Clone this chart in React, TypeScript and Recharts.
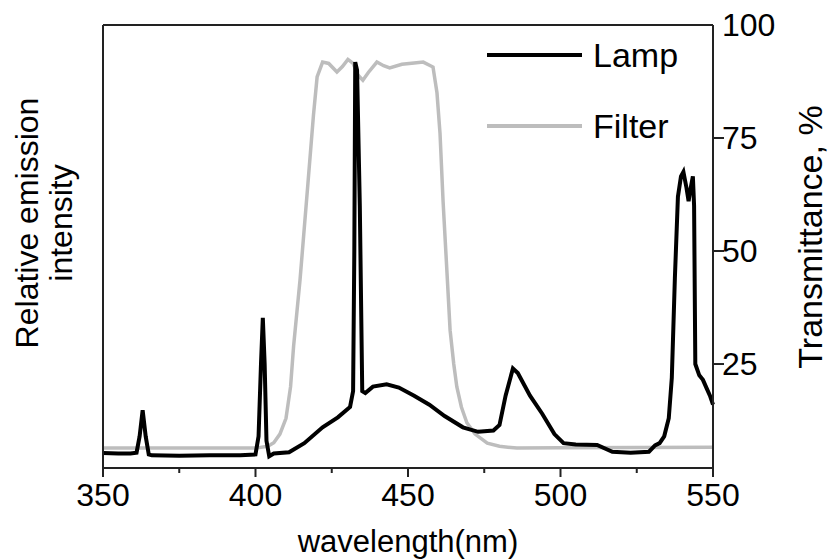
import { LineChart, Line, XAxis, YAxis, Label, ReferenceLine } from 'recharts'

// lamp emission spectrum (relative, plotted on the same 0-100 scale)
const lampWavelength = [
  350, 355, 359, 361, 362, 363, 364, 365, 366, 375, 385, 395, 400, 401, 401.8, 402.4, 403, 403.6, 404.5,
  406, 411, 416, 422, 427, 431, 432, 432.4, 432.7, 433.3, 434.2, 435, 436, 438.5, 443, 447, 452, 457,
  462, 468, 473, 478, 480, 482, 484.4, 486, 490, 494, 498, 501, 505, 512, 517, 523, 529, 531, 532.5,
  534, 535.5, 536.5, 537.5, 538.5, 539.5, 540.3, 541.3, 542, 542.7, 543.4, 543.8, 544.2, 545.5, 546.7,
  548, 549, 550,
]
const lampIntensity = [
  5.3, 5.2, 5.2, 5.4, 9, 14.8, 9, 5, 4.8, 4.7, 4.8, 4.8, 5, 9, 25, 35.2, 25, 8, 4.6,
  5.2, 5.5, 7.5, 11, 13.2, 15.5, 19, 50, 91.8, 90, 60, 19, 18.6, 20, 20.5, 19.8, 18, 16,
  13.5, 11, 10, 10.3, 11.5, 18, 24, 23, 18, 14, 9.5, 7.5, 7.2, 7.1, 5.6, 5.4, 5.6, 7, 7.5,
  9, 13, 22, 44, 62, 66.5, 67.5, 64, 61, 64, 66.5, 60, 25, 22.5, 21.5,
  19.5, 18, 16,
]

// filter transmittance, %
const filterWavelength = [
  350, 400, 404, 406, 408, 410, 411.5, 412.5, 414.6, 417.2, 419, 420.2, 422, 424, 426.7, 428.5, 430.3,
  432, 433.5, 435.2, 437, 439.8, 442, 444, 448, 452, 455, 458.2, 459.5, 460.5, 461.5, 462.8, 463.8,
  465, 466, 467.5, 469.3, 472, 476, 480, 485.7, 500, 550,
]
const filterTransmittance = [
  6.4, 6.4, 6.8, 7.6, 9.5, 13, 20, 29, 43.6, 65, 80, 88.5, 91.8, 91.5, 89.6, 90.8, 92.4,
  91.5, 89, 87.8, 89.5, 91.8, 91, 90.5, 91.3, 91.6, 91.8, 90.7, 85, 76, 61, 45, 32.5,
  25, 20, 15.5, 12, 9.5, 7.5, 6.8, 6.4, 6.5, 6.6,
]

const xTicks = [350, 375, 400, 425, 450, 475, 500, 525, 550]
const yTicks = [25, 50, 75, 100]
const legendNames = ['Lamp', 'Filter']
const legendColors = ['#000', '#bdbdbd']

const lampData = lampWavelength.map((wl, i) => ({ wl, lamp: lampIntensity[i] }))
const filterData = filterWavelength.map((wl, i) => ({ wl, filter: filterTransmittance[i] }))

const FONT = '"Liberation Sans", Arial, sans-serif'
const AXIS = '#222'

function XTick({ x, y, payload }: any) {
  const major = payload.value % 50 === 0
  return (
    <g>
      <line x1={x} x2={x} y1={y} y2={y + (major ? 9 : 5)} stroke={AXIS} strokeWidth={2} />
      {major && (
        <text x={x} y={y + 38} textAnchor="middle" fontSize={32} fontFamily={FONT} fill="#000">
          {payload.value}
        </text>
      )}
    </g>
  )
}

function YTick({ x, y, payload }: any) {
  return (
    <g>
      {payload.value !== 100 && <line x1={x} x2={x + 11} y1={y} y2={y} stroke={AXIS} strokeWidth={2} />}
      <text x={x + 9} y={y + 11} textAnchor="start" fontSize={32} fontFamily={FONT} fill="#000">
        {payload.value}
      </text>
    </g>
  )
}

// legend drawn in plot space (top right, inside the frame)
function LegendBox() {
  return (
    <g>
      {legendNames.map((name, i) => {
        const y = 55 + i * 71
        return (
          <g key={name}>
            <line x1={487} x2={582} y1={y} y2={y} stroke={legendColors[i]} strokeWidth={4} />
            <text x={593} y={y + 12} fontSize={34} fontFamily={FONT} fill="#000">
              {name}
            </text>
          </g>
        )
      })}
    </g>
  )
}

export default function App() {
  return (
    <div style={{ width: 831, height: 560, background: '#fff' }}>
      <style>{'body{margin:0}'}</style>
      <LineChart width={831} height={560} margin={{ top: 25, right: 0, bottom: 0, left: 0 }}>
        <XAxis
          dataKey="wl"
          type="number"
          domain={[350, 550]}
          ticks={xTicks}
          allowDuplicatedCategory={false}
          height={92}
          stroke={AXIS}
          strokeWidth={2}
          tickLine={false}
          tickSize={0}
          tickMargin={0}
          tick={<XTick />}
        >
          <Label
            content={() => (
              <text x={408} y={552} textAnchor="middle" fontSize={31} fontFamily={FONT} fill="#000">
                wavelength(nm)
              </text>
            )}
          />
        </XAxis>
        <YAxis
          yAxisId="left"
          orientation="left"
          type="number"
          domain={[2, 100]}
          width={103}
          tick={false}
          tickLine={false}
          stroke={AXIS}
          strokeWidth={2}
        >
          <Label
            content={() => (
              <g fontSize={32} fontFamily={FONT} fill="#000" textAnchor="middle">
                <text transform="translate(38 223) rotate(-90)">Relative emission</text>
                <text transform="translate(72 223) rotate(-90)">intensity</text>
              </g>
            )}
          />
        </YAxis>
        <YAxis
          yAxisId="right"
          orientation="right"
          type="number"
          domain={[2, 100]}
          ticks={yTicks}
          width={118}
          stroke={AXIS}
          strokeWidth={2}
          tickLine={false}
          tickSize={0}
          tickMargin={0}
          tick={<YTick />}
        >
          <Label
            content={() => (
              <g>
                <text
                  transform="translate(822 237) rotate(-90)"
                  textAnchor="middle"
                  fontSize={34}
                  fontFamily={FONT}
                  fill="#000"
                >
                  Transmittance, %
                </text>
                <LegendBox />
              </g>
            )}
          />
        </YAxis>
        <ReferenceLine yAxisId="right" y={100} stroke={AXIS} strokeWidth={2} />
        <Line
          yAxisId="right"
          data={filterData}
          dataKey="filter"
          type="linear"
          stroke="#bdbdbd"
          strokeWidth={3.5}
          dot={false}
          isAnimationActive={false}
        />
        <Line
          yAxisId="left"
          data={lampData}
          dataKey="lamp"
          type="linear"
          stroke="#000"
          strokeWidth={4}
          dot={false}
          isAnimationActive={false}
        />
      </LineChart>
    </div>
  )
}
